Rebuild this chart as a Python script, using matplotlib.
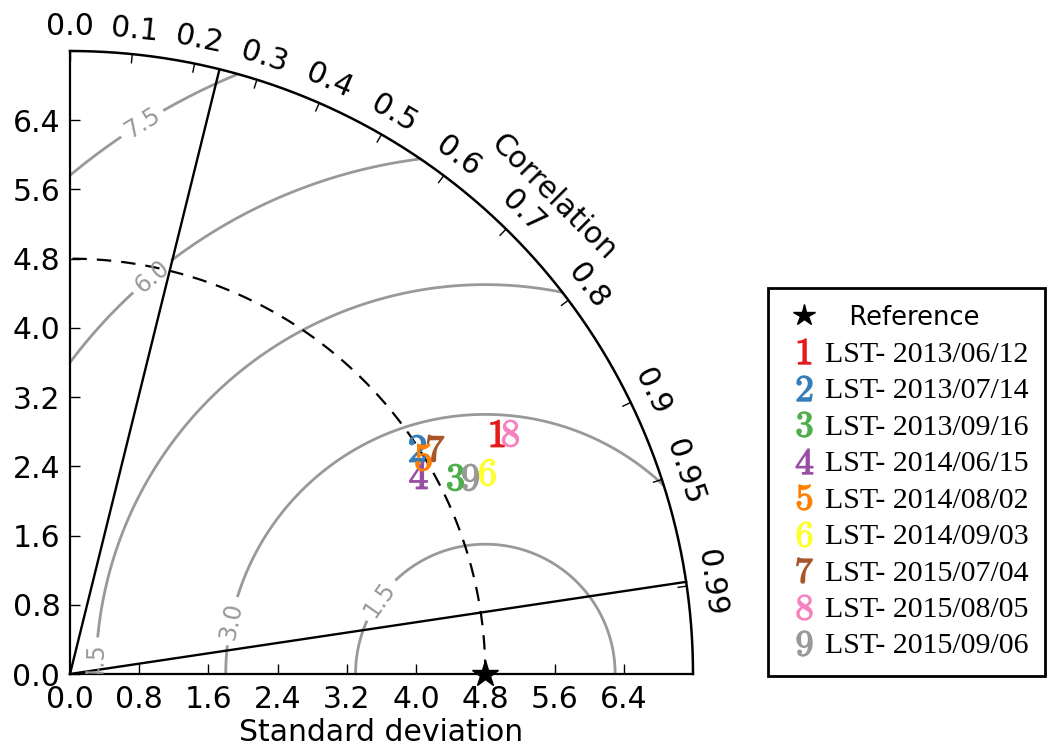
import numpy as np
import matplotlib
matplotlib.use("Agg")
import matplotlib.pyplot as plt
from matplotlib.patches import Wedge

plt.rcParams['mathtext.fontset'] = 'cm'
plt.rcParams['font.family'] = ['DejaVu Sans']

# ---------------- data ----------------
ref_std = 4.8
ref_label = "Reference"
series_labels = ["LST- 2013/06/12", "LST- 2013/07/14", "LST- 2013/09/16",
                 "LST- 2014/06/15", "LST- 2014/08/02", "LST- 2014/09/03",
                 "LST- 2015/07/04", "LST- 2015/08/05", "LST- 2015/09/06"]
series_std = [5.67, 4.79, 5.00, 4.63, 4.79, 5.36, 4.96, 5.80, 5.16]
series_corr = [0.871, 0.838, 0.890, 0.868, 0.852, 0.900, 0.850, 0.877, 0.897]
series_colors = ["#e41a1c", "#377eb8", "#4daf4a", "#984ea3", "#ff7f00",
                 "#ffff33", "#a65628", "#f781bf", "#999999"]
std_ticks = [0.0, 0.8, 1.6, 2.4, 3.2, 4.0, 4.8, 5.6, 6.4]
std_max = 7.2
corr_ticks = [0.0, 0.1, 0.2, 0.3, 0.4, 0.5, 0.6, 0.7, 0.8, 0.9, 0.95, 0.99]
corr_ticklabels = ["0.0", "0.1", "0.2", "0.3", "0.4", "0.5", "0.6", "0.7",
                   "0.8", "0.9", "0.95", "0.99"]
corr_lines = [0.24, 0.989]
rms_levels = [1.5, 3.0, 4.5, 6.0, 7.5]
rms_label_pos = [(3.58, 0.86), (1.83, 0.62), (0.2, 0.14), (0.9, 4.65), (0.81, 6.4)]

# ---------------- figure ----------------
W, H = 1049, 749
fig = plt.figure(figsize=(W / 100, H / 100), dpi=100)
ax = fig.add_axes([70 / W, 75 / H, 623 / W, 623 / H])
ax.set_xlim(0, std_max)
ax.set_ylim(0, std_max)
for s in ['top', 'right']:
    ax.spines[s].set_visible(False)
for s in ['left', 'bottom']:
    ax.spines[s].set_linewidth(1.6)
ax.set_xticks(std_ticks)
ax.set_yticks(std_ticks)
ax.set_xticklabels([f"{v:.1f}" for v in std_ticks])
ax.set_yticklabels([f"{v:.1f}" for v in std_ticks])
ax.tick_params(direction='in', length=7, width=1, labelsize=21.5, top=False, right=False)
ax.tick_params(axis='x', pad=8)
ax.tick_params(axis='y', pad=7)
ax.set_xlabel("Standard deviation", fontsize=21.5, labelpad=3)

clip = Wedge((0, 0), std_max, 0, 90, transform=ax.transData)

# RMS contours
g = np.linspace(0, std_max, 500)
X, Y = np.meshgrid(g, g)
RMS = np.sqrt((X - ref_std) ** 2 + Y ** 2)
cs = ax.contour(X, Y, RMS, levels=rms_levels, colors='0.6', linewidths=2)
ax.clabel(cs, inline=True, fontsize=17, fmt='%.1f', manual=rms_label_pos, inline_spacing=6)
cs.set_clip_path(clip)

# outer arc
th = np.linspace(0, np.pi / 2, 400)
ax.plot(std_max * np.cos(th), std_max * np.sin(th), color='k', lw=1.8, clip_on=False)

# reference dashed circle
ax.plot(ref_std * np.cos(th), ref_std * np.sin(th), color='k', lw=1.6, ls=(0, (6.5, 4.5)))

# correlation radial lines
for c in corr_lines:
    t = np.arccos(c)
    ax.plot([0, std_max * np.cos(t)], [0, std_max * np.sin(t)], color='k', lw=1.7, clip_on=False)

# correlation ticks & labels
for c, lab in zip(corr_ticks, corr_ticklabels):
    t = np.arccos(c)
    ax.plot([(std_max - 0.1) * np.cos(t), std_max * np.cos(t)],
            [(std_max - 0.1) * np.sin(t), std_max * np.sin(t)], color='k', lw=1, clip_on=False)
    rl = 7.48
    ax.text(rl * np.cos(t), rl * np.sin(t), lab, rotation=np.degrees(t) - 90,
            ha='center', va='center', rotation_mode='anchor', fontsize=21.5, clip_on=False)
tl = np.radians(44.6)
ax.text(7.85 * np.cos(tl), 7.85 * np.sin(tl), "Correlation", rotation=-45,
        ha='center', va='center', rotation_mode='anchor', fontsize=21.5)

# reference point
handles = []
h, = ax.plot([ref_std], [0], ls='', marker='*', color='k', ms=20, clip_on=False,
             zorder=10, label="   " + ref_label)
handles.append(h)

# series points
for i, (s, c, col, lab) in enumerate(zip(series_std, series_corr, series_colors, series_labels)):
    t = np.arccos(c)
    h, = ax.plot([s * np.cos(t)], [s * np.sin(t)], ls='', marker=r'$\mathbf{%d}$' % (i + 1), ms=19,
                 color=col, label=lab, zorder=5)
    handles.append(h)

leg = fig.legend(handles=handles, loc='upper left', bbox_to_anchor=(768 / W, 1 - 288 / H),
                 borderaxespad=0, fancybox=False, framealpha=1, edgecolor='k',
                 prop={'family': 'Liberation Serif', 'size': 21.5},
                 borderpad=0.55, handlelength=1.3, handletextpad=0.05, labelspacing=0.32,
                 numpoints=1)
leg.get_frame().set_linewidth(2)
txts = leg.get_texts()
txts[0].set_fontfamily('DejaVu Sans')
txts[0].set_fontsize(18.5)
lh = leg.legend_handles
lh[0].set_markersize(16)
for k in range(1, len(lh)):
    lh[k].set_markersize(18)

fig.savefig("out.png", dpi=100)
